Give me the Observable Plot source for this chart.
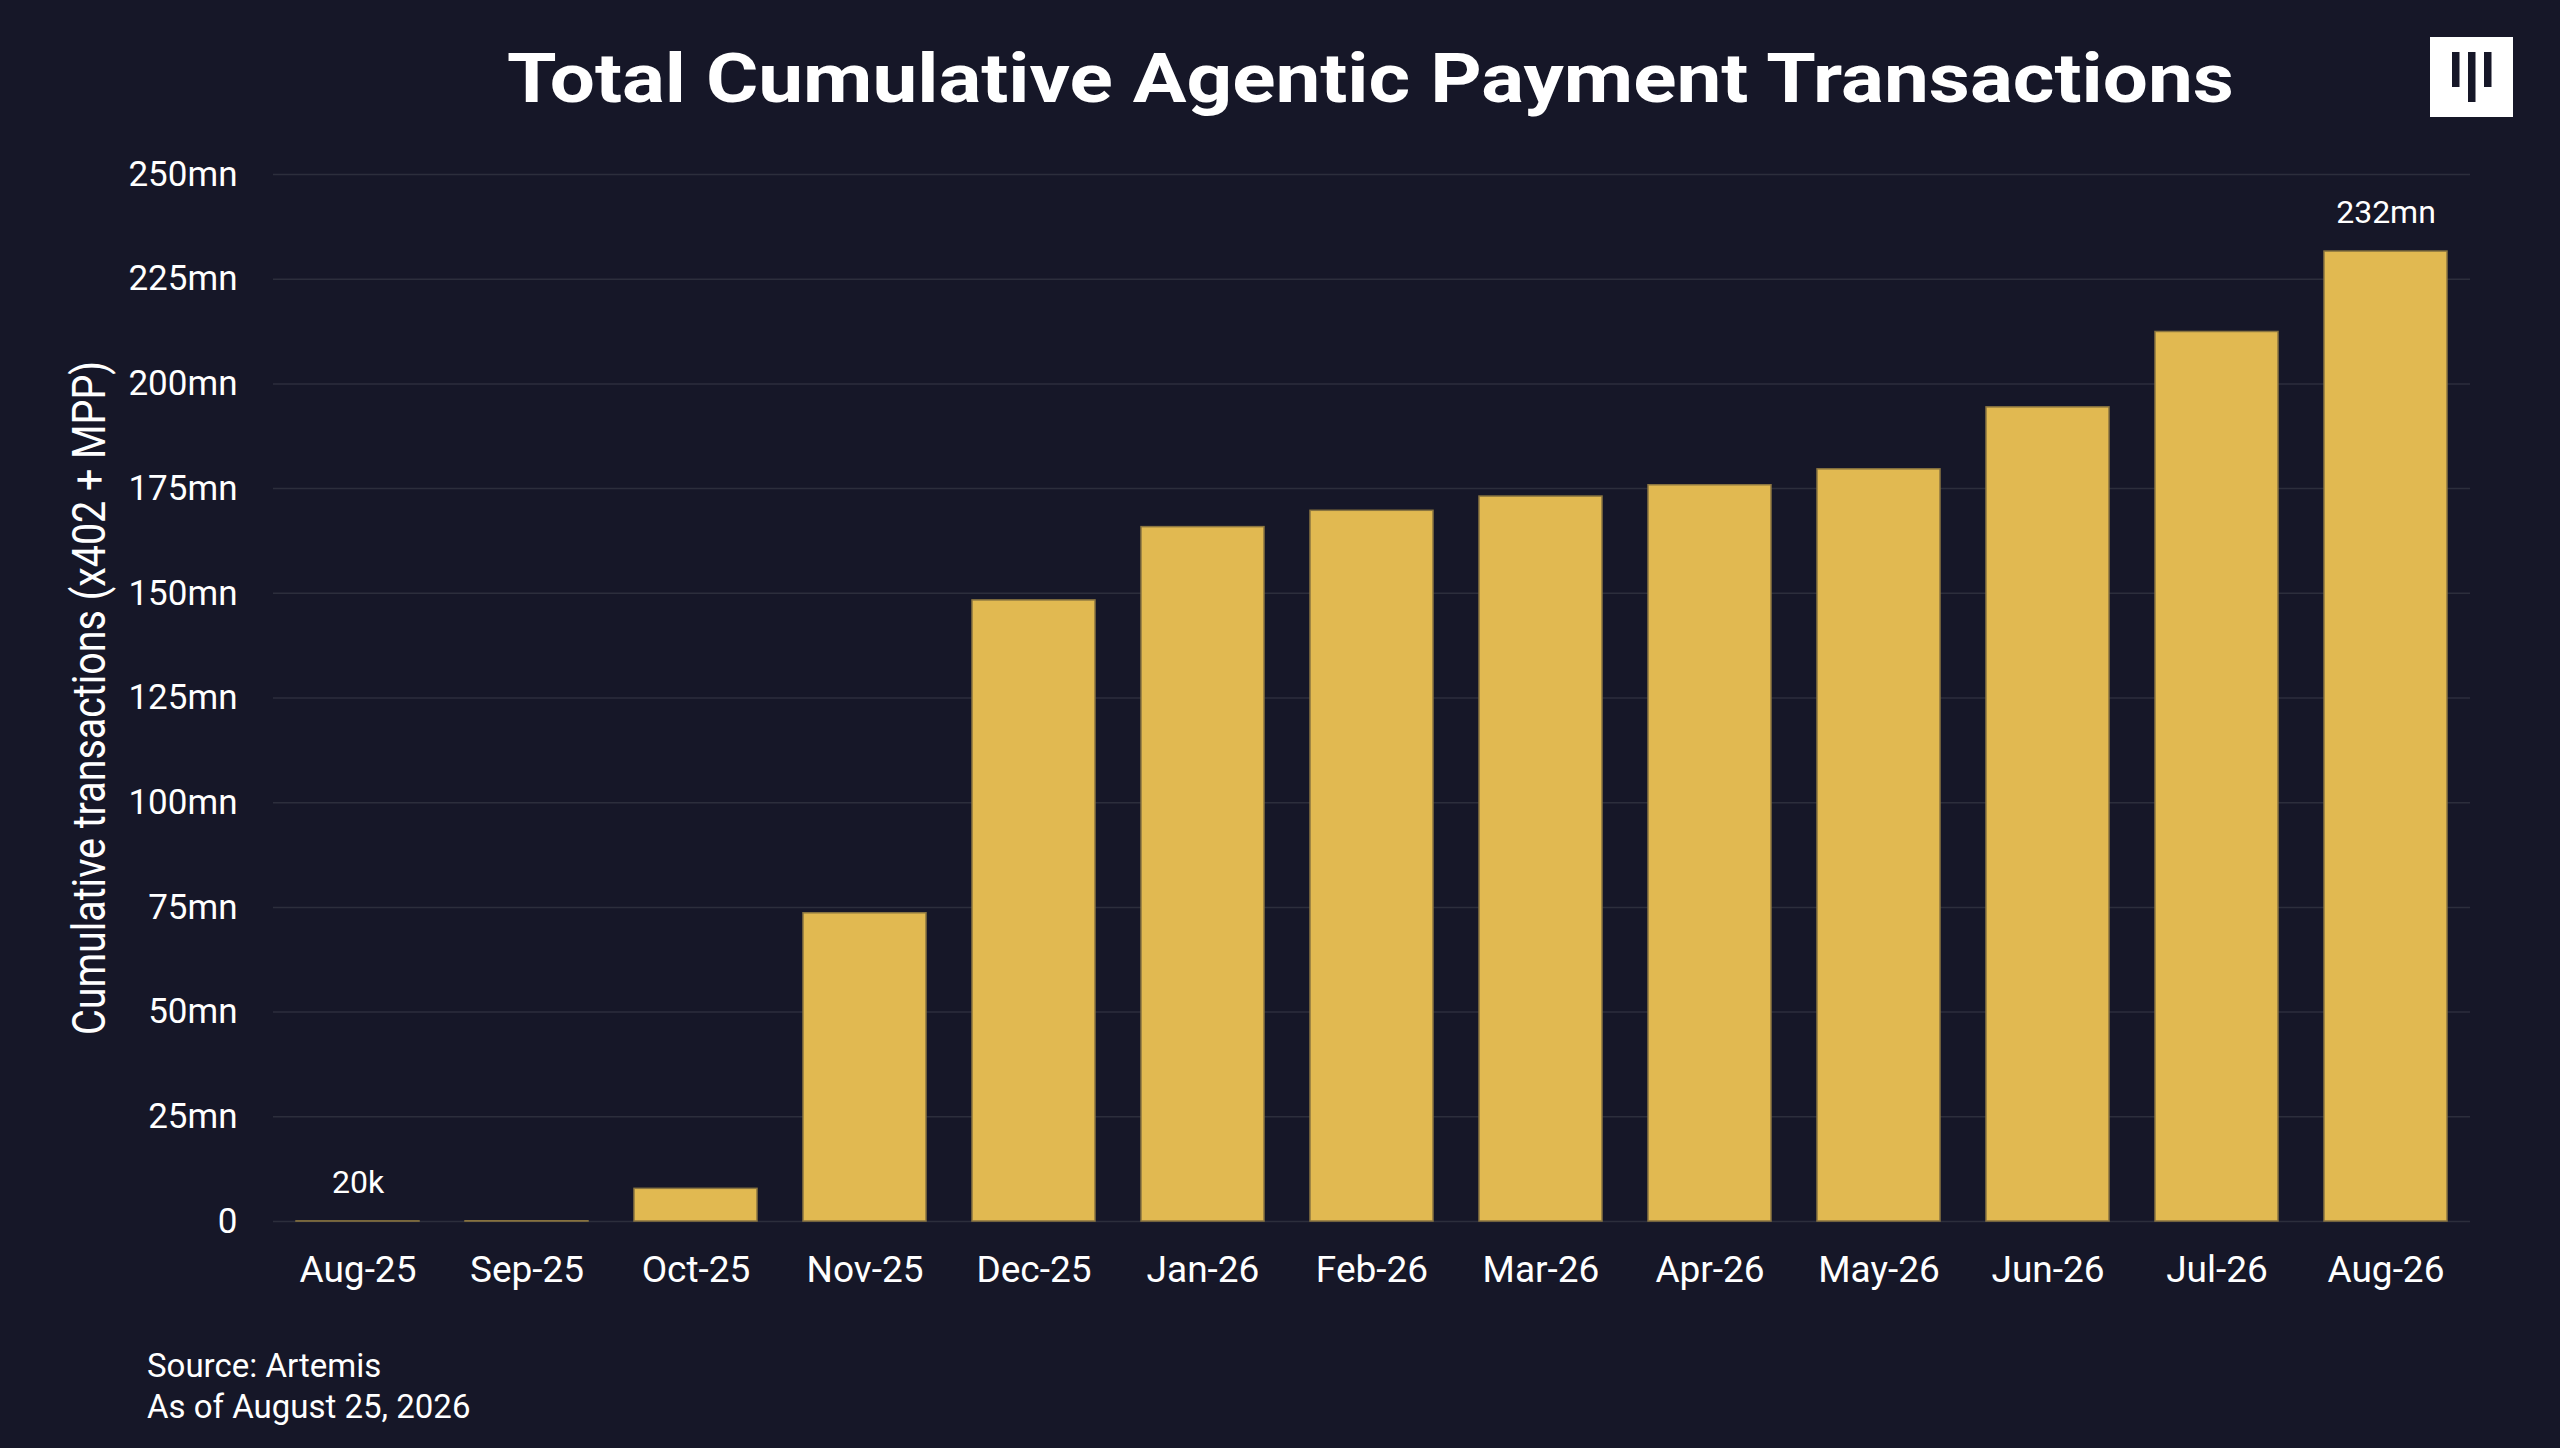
<!DOCTYPE html>
<html>
<head>
<meta charset="utf-8">
<script src="https://cdn.jsdelivr.net/npm/d3@7"></script>
<script src="https://cdn.jsdelivr.net/npm/@observablehq/plot@0.6"></script>
<style>
  html, body { margin: 0; padding: 0; background: #161728; }
  #page { position: relative; width: 2560px; height: 1448px; background: #161728; overflow: hidden; font-family: Roboto, "Liberation Sans", sans-serif; color: #ffffff; }
  #title { position: absolute; left: 0; top: 44px; width: 2740px; text-align: center; font-size: 69px; line-height: 69px; font-weight: 700; white-space: nowrap; }
  #title span { display: inline-block; transform: scaleX(1.16); transform-origin: center; }
  #chart { position: absolute; left: 0; top: 140px; }
  #caption { position: absolute; left: 147px; top: 1345px; font-size: 33px; line-height: 41px; }
  #logo { position: absolute; left: 2430px; top: 37px; }
</style>
</head>
<body>
<div id="page">
  <div id="title"><span>Total Cumulative Agentic Payment Transactions</span></div>
  <svg id="logo" width="83" height="80" viewBox="0 0 83 80">
    <rect x="0" y="0" width="83" height="80" fill="#ffffff"/>
    <rect x="22" y="15" width="7.5" height="35" fill="#161728"/>
    <rect x="38" y="15" width="7.5" height="50" fill="#161728"/>
    <rect x="54" y="15" width="7.5" height="35" fill="#161728"/>
  </svg>
  <div id="chart"></div>
  <div id="caption">Source: Artemis<br>As of August 25, 2026</div>
</div>
<script>
// Data (millions of cumulative transactions)
const months = ["Aug-25","Sep-25","Oct-25","Nov-25","Dec-25","Jan-26","Feb-26","Mar-26","Apr-26","May-26","Jun-26","Jul-26","Aug-26"];
const values = [0.02, 0.05, 7.8, 73.6, 148.3, 165.8, 169.7, 173.1, 175.8, 179.6, 194.4, 212.4, 231.6];
const yTicks = [0, 25, 50, 75, 100, 125, 150, 175, 200, 225, 250];
const labelMonths = ["Aug-25", "Aug-26"];
const labelValues = [0.02, 231.6];
const labelTexts = ["20k", "232mn"];
const yTitle = "Cumulative transactions (x402 + MPP)";

const data = months.map((m, i) => ({month: m, value: values[i]}));
const labels = labelMonths.map((m, i) => ({month: m, value: labelValues[i], text: labelTexts[i]}));

const plot = Plot.plot({
  width: 2560,
  height: 1180,
  marginLeft: 273,
  marginRight: 90,
  marginTop: 34,
  marginBottom: 99,
  style: {background: "transparent", color: "#ffffff", fontFamily: "Roboto, 'Liberation Sans', sans-serif", overflow: "visible"},
  x: {domain: months, paddingInner: 0.27, paddingOuter: 0.135, label: null},
  y: {domain: [0, 250], label: null},
  marks: [
    Plot.ruleY(yTicks, {stroke: "#2c2e3c", strokeWidth: 1.5}),
    Plot.barY(data, {x: "month", y: "value", fill: "#E1B951", stroke: "#8a7540", strokeWidth: 1.5}),
    Plot.text(labels, {x: "month", y: "value", text: "text", dy: -39, fontSize: 32, fill: "#ffffff"}),
    Plot.axisY(yTicks, {tickSize: 0, tickPadding: 36, fontSize: 35, fill: "#ffffff", label: null,
      tickFormat: d => d === 0 ? "0" : d + "mn"}),
    Plot.axisX({tickSize: 0, tickPadding: 34, fontSize: 37, fill: "#ffffff", label: null}),
    Plot.text([yTitle], {frameAnchor: "left", dx: -183, dy: 337, rotate: -90, textAnchor: "start", fontSize: 46, fill: "#ffffff", text: d => d})
  ]
});
document.getElementById("chart").appendChild(plot);
plot.querySelectorAll("text").forEach(t => {
  if (t.textContent === yTitle) {
    t.setAttribute("textLength", "674");
    t.setAttribute("lengthAdjust", "spacingAndGlyphs");
  }
});
</script>
</body>
</html>
